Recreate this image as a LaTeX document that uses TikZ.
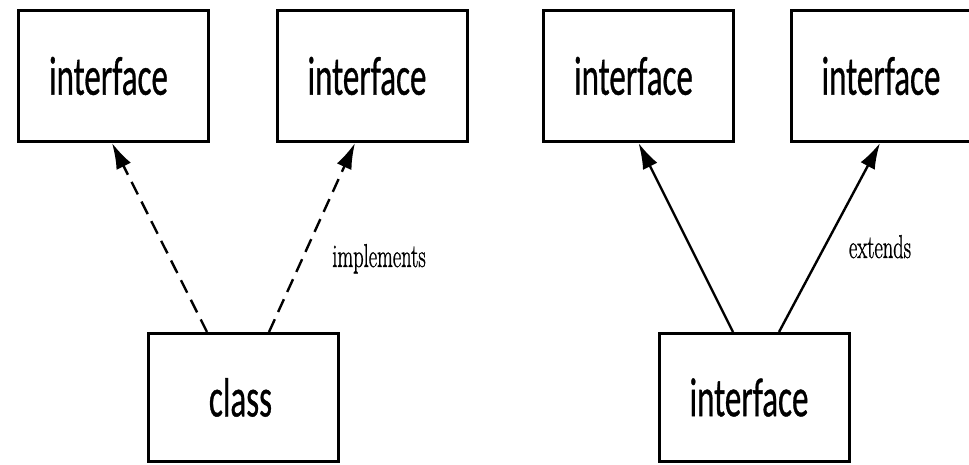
\documentclass[tikz,border=0pt]{standalone}
\usepackage{fontspec}
\setmainfont[FakeBold=1.2]{Latin Modern Roman}
\newfontfamily\boxfont[FakeBold=0.8]{Carlito}
\usetikzlibrary{arrows.meta,calc}
\begin{document}
\begin{tikzpicture}[x=1pt,y=1pt,
  umlbox/.style={draw,line width=3pt,rectangle,minimum width=190pt,inner sep=0pt,font=\boxfont\fontsize{55}{60}\selectfont},
  topbox/.style={umlbox,minimum height=131pt},
  botbox/.style={umlbox,minimum height=128pt},
  rel/.style={line width=2.4pt,-{Latex[length=26pt,width=16pt]}},
  reldash/.style={rel,dash pattern=on 14pt off 8pt},
  lbl/.style={font=\fontsize{33}{36}\selectfont,inner sep=0pt,anchor=base}]
\useasboundingbox (0,0) rectangle (969,465);
\clip (0,0) rectangle (969,465);
\node[topbox] (i1) at (113.5,389) {\scalebox{0.6}[1]{interface}\hspace*{10pt}};
\node[topbox] (i2) at (372,389) {\scalebox{0.6}[1]{interface}\hspace*{10pt}};
\node[botbox] (cls) at (243.5,67.5) {\scalebox{0.6}[1]{class}\hspace*{6pt}};
\node[topbox] (i3) at (638.5,389) {\scalebox{0.6}[1]{interface}\hspace*{10pt}};
\node[topbox] (i4) at (886,389) {\scalebox{0.6}[1]{interface}\hspace*{10pt}};
\node[botbox] (i5) at (754,67.5) {\scalebox{0.6}[1]{interface}\hspace*{10pt}};
\draw[reldash] ($(cls.north)+(-36.5,0)$) -- ($(i1.south)+(-1.5,0)$);
\draw[reldash] ($(cls.north)+(25.5,0)$) -- ($(i2.south)+(-17,0)$);
\draw[rel] ($(i5.north)+(-21,0)$) -- ($(i3.south)+(0,0)$);
\draw[rel] ($(i5.north)+(25,0)$) -- ($(i4.south)+(-6,0)$);
\node[lbl] (impl) at (379,198) {\scalebox{0.62}[1]{implements}};
\node[lbl] (ext) at (880,207) {\scalebox{0.62}[1]{extends}};
\end{tikzpicture}
\end{document}
